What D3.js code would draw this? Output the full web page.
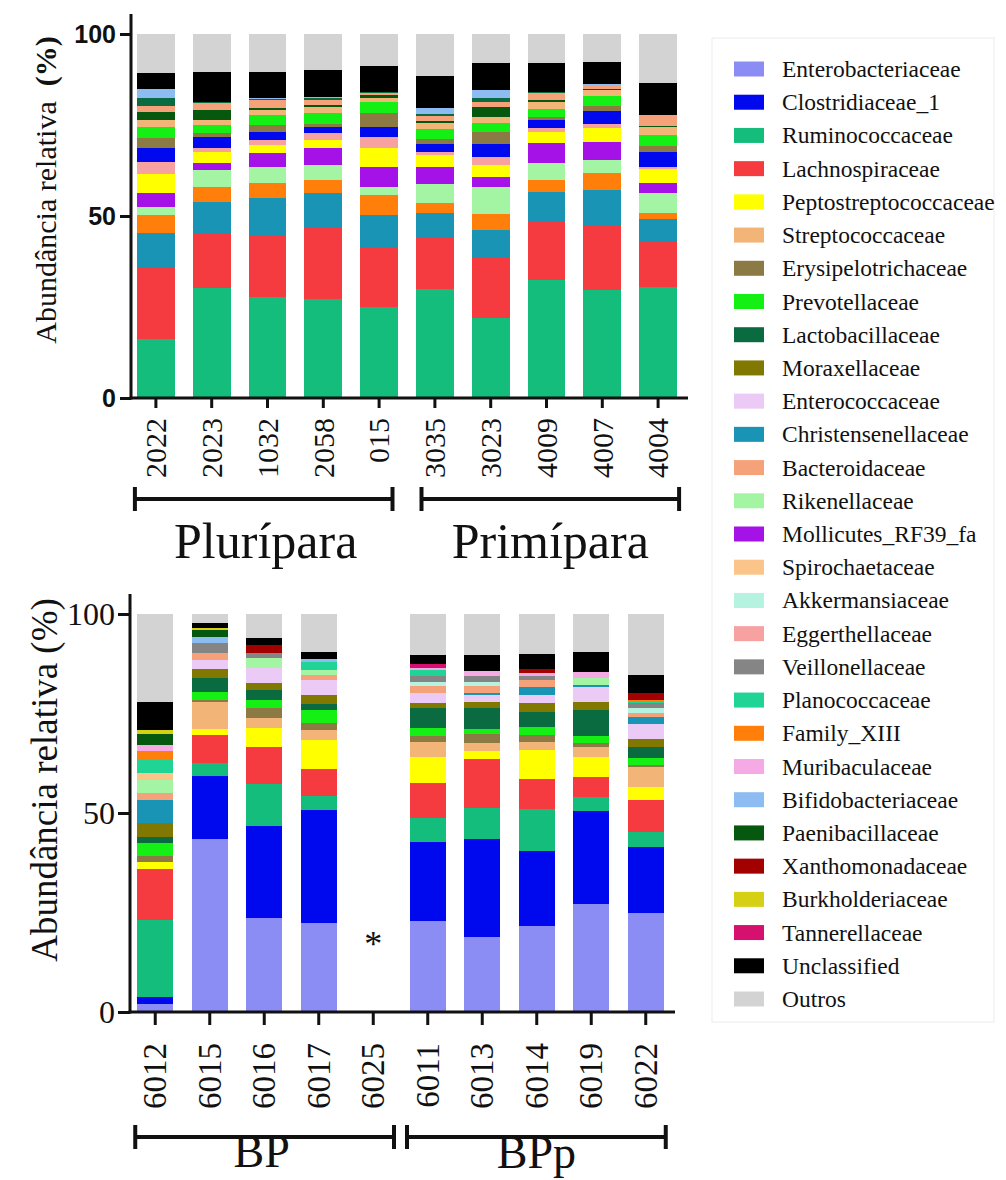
<!DOCTYPE html>
<html>
<head>
<meta charset="utf-8">
<script src="https://cdn.jsdelivr.net/npm/d3@7"></script>
<style>
  body { margin: 0; background: #fff; }
  svg { display: block; }
  text { fill: #111; }
</style>
</head>
<body>
<svg id="chart" width="1006" height="1180"></svg>
<script>
// legend order (also the stacking order of the lower panel)
var families = ['Enterobacteriaceae', 'Clostridiaceae_1', 'Ruminococcaceae', 'Lachnospiraceae',
  'Peptostreptococcaceae', 'Streptococcaceae', 'Erysipelotrichaceae', 'Prevotellaceae',
  'Lactobacillaceae', 'Moraxellaceae', 'Enterococcaceae', 'Christensenellaceae', 'Bacteroidaceae',
  'Rikenellaceae', 'Mollicutes_RF39_fa', 'Spirochaetaceae', 'Akkermansiaceae', 'Eggerthellaceae',
  'Veillonellaceae', 'Planococcaceae', 'Family_XIII', 'Muribaculaceae', 'Bifidobacteriaceae',
  'Paenibacillaceae', 'Xanthomonadaceae', 'Burkholderiaceae', 'Tannerellaceae', 'Unclassified', 'Outros']
var familyColors = ['#8c8cf5', '#0008ee', '#15bd7c', '#f53b3f',
  '#ffff00', '#f2b477', '#8c7a45', '#14f014',
  '#0a6b40', '#807800', '#ebcbf5', '#1a94b5', '#f5a27a',
  '#a3f5a3', '#a512e8', '#fbc58a', '#b5f2e0', '#f7a1a1',
  '#858585', '#1fd494', '#ff7f0a', '#f5aae6', '#8cbcf2',
  '#07580f', '#a30000', '#d6d014', '#d6106e', '#000000', '#d3d3d3']

// upper panel
var topSamples = ['2022', '2023', '1032', '2058', '015', '3035', '3023', '4009', '4007', '4004']
var topGroups = ['Plurípara', 'Primípara']
var topGroupSizes = [5, 5]
var topOrder = ['Ruminococcaceae', 'Lachnospiraceae', 'Christensenellaceae', 'Family_XIII',
  'Rikenellaceae', 'Mollicutes_RF39_fa', 'Peptostreptococcaceae', 'Eggerthellaceae',
  'Clostridiaceae_1', 'Erysipelotrichaceae', 'Prevotellaceae', 'Streptococcaceae',
  'Paenibacillaceae', 'Bacteroidaceae', 'Lactobacillaceae', 'Bifidobacteriaceae',
  'Unclassified', 'Outros']
var topValues = [
  [16.1, 19.5, 9.6, 5.1, 2.3, 3.8, 5.1, 3.4, 3.7, 2.7, 3.1, 2.0, 2.3, 1.5, 2.1, 2.5, 4.4, 10.8],
  [30.1, 15.1, 8.7, 4.2, 4.5, 1.9, 3.2, 0.9, 3.2, 0.9, 2.3, 1.4, 2.7, 1.9, 0.2, 0.2, 8.2, 10.4],
  [27.8, 17.0, 10.1, 4.1, 4.5, 3.7, 2.3, 1.4, 2.3, 1.8, 2.7, 1.4, 0.6, 2.2, 0.2, 0.2, 7.3, 10.4],
  [27.1, 19.5, 9.6, 3.7, 4.1, 4.6, 2.3, 1.8, 1.8, 0.9, 3.0, 1.5, 0.5, 1.5, 0.4, 0.5, 7.3, 9.9],
  [24.9, 16.7, 8.7, 5.5, 2.3, 5.4, 5.1, 3.2, 2.7, 3.7, 3.2, 0.9, 0.9, 0.7, 0.3, 0.0, 7.0, 8.8],
  [29.9, 14.4, 6.4, 2.9, 5.3, 4.5, 3.4, 0.9, 2.1, 1.3, 2.7, 1.8, 0.6, 1.4, 0.5, 1.5, 8.9, 11.5],
  [21.9, 16.5, 7.8, 4.3, 7.6, 2.7, 3.2, 2.3, 3.5, 3.4, 2.3, 1.8, 2.6, 1.5, 0.9, 2.3, 7.3, 8.1],
  [32.4, 16.0, 8.3, 3.2, 4.6, 5.6, 3.1, 0.9, 2.3, 0.9, 2.0, 2.1, 0.5, 1.8, 0.5, 0.0, 7.9, 7.9],
  [29.7, 17.6, 9.8, 4.6, 3.7, 5.0, 3.7, 1.3, 3.5, 1.3, 2.8, 1.5, 0.5, 1.0, 0.0, 0.3, 6.1, 7.6],
  [30.6, 12.3, 6.2, 1.8, 5.3, 3.0, 3.6, 0.7, 4.2, 1.5, 3.1, 2.1, 0.4, 2.9, 0.0, 0.0, 8.9, 13.4]
]

// lower panel, columns follow `families`
var bottomSamples = ['6012', '6015', '6016', '6017', '6025', '6011', '6013', '6014', '6019', '6022']
var bottomGroups = ['BP', 'BPp']
var bottomGroupSizes = [5, 5]
var missingSamples = ['6025']
var bottomValues = [
  [2.0, 1.8, 19.3, 12.8, 1.9, 0, 1.4, 3.2, 1.5, 3.7, 0, 5.7, 1.6, 3.4, 0, 1.8, 0, 0, 0, 3.2, 2.4, 1.4, 0, 2.7, 0, 1.1, 0, 7.1, 22.0],
  [43.4, 15.9, 3.3, 7.0, 1.4, 7.0, 0.4, 2.1, 3.3, 2.3, 2.3, 0, 1.9, 0, 0, 0, 0, 0, 2.5, 0, 0, 0, 1.5, 1.7, 0, 0.4, 0, 1.4, 2.2],
  [23.7, 23.1, 10.5, 9.4, 4.6, 2.5, 2.5, 2.1, 2.5, 1.8, 3.7, 0, 0, 2.5, 0, 0, 0, 0, 1.4, 0, 0, 0, 0, 0, 1.9, 0, 0, 1.7, 6.1],
  [22.3, 28.5, 3.5, 6.7, 7.3, 2.6, 1.8, 3.2, 1.5, 2.2, 3.8, 0, 1.3, 1.2, 0, 0, 0, 0, 0, 2.1, 0, 0, 0.6, 0, 0, 0, 0, 1.9, 9.5],
  [0, 0, 0, 0, 0, 0, 0, 0, 0, 0, 0, 0, 0, 0, 0, 0, 0, 0, 0, 0, 0, 0, 0, 0, 0, 0, 0, 0, 0],
  [22.9, 19.9, 5.9, 8.8, 6.5, 3.8, 1.5, 2.0, 5.2, 1.1, 2.5, 0, 1.8, 0, 0, 0, 1.1, 0, 1.4, 1.5, 0, 0.5, 0, 0, 0, 0, 1.1, 2.3, 10.2],
  [18.8, 24.6, 7.9, 12.2, 2.2, 1.8, 2.3, 1.3, 5.2, 1.7, 1.6, 0.6, 1.7, 0, 0, 0, 1.1, 0, 1.4, 0, 0, 1.4, 0, 0, 0, 0, 0, 3.9, 10.3],
  [21.7, 18.8, 10.4, 7.6, 7.3, 2.0, 1.8, 2.1, 3.8, 2.2, 1.9, 2.0, 1.8, 0, 0, 0, 0, 0, 0.9, 0, 0, 0.9, 0, 0, 1.1, 0, 0, 3.6, 10.1],
  [27.1, 23.4, 3.6, 4.9, 5.0, 2.7, 1.0, 1.6, 6.6, 2.1, 3.6, 0.6, 0, 1.6, 0, 0, 0, 0, 0, 0, 0, 1.7, 0, 0, 0, 0, 0, 5.0, 9.5],
  [25.0, 16.5, 3.8, 8.0, 3.3, 4.9, 0.6, 1.8, 2.8, 1.8, 3.9, 1.6, 1.2, 0, 0, 0, 1.1, 0, 1.3, 0.4, 0.4, 0, 0, 0, 1.7, 0, 0, 4.6, 15.3]
]

var yTicks = [0, 50, 100]
var yTitle = 'Abundância relativa'

var serif = '"Liberation Serif", "Times New Roman", serif'
var sans = '"Liberation Sans", Arial, sans-serif'

var svg = d3.select('#chart')
var color = d3.scaleOrdinal().domain(families).range(familyColors)

function makeRows (samples, order, values) {
  return samples.map(function (s, i) {
    var row = { sample: s }
    order.forEach(function (f, j) { row[f] = values[i][j] })
    return row
  })
}

function drawPanel (p) {
  var g = svg.append('g')
  var x = d3.scaleBand().domain(p.samples).range(p.xRange)
    .paddingInner(p.pad).paddingOuter(p.pad / 2)
  var y = d3.scaleLinear().domain([0, 100]).range([p.y0, p.y100])
  var series = d3.stack().keys(p.order)(makeRows(p.samples, p.order, p.values))
  var center = function (s) { return x(s) + x.bandwidth() / 2 }

  // stacked bars
  g.append('g').selectAll('g').data(series).enter().append('g')
    .attr('fill', function (d) { return color(d.key) })
    .selectAll('rect').data(function (d) { return d }).enter().append('rect')
    .attr('x', function (d) { return x(d.data.sample) })
    .attr('y', function (d) { return y(d[1]) })
    .attr('width', x.bandwidth())
    .attr('height', function (d) { return Math.max(0, y(d[0]) - y(d[1])) })
    .attr('shape-rendering', 'crispEdges')

  // y axis
  var yAxis = g.append('g')
    .attr('transform', 'translate(' + p.axisX + ',0)')
    .call(d3.axisLeft(y).tickValues(yTicks).tickSize(p.yTickLen).tickPadding(p.yTickPad))
  yAxis.select('.domain').remove()
  yAxis.selectAll('.tick line').attr('stroke', '#111').attr('stroke-width', 3)
  yAxis.selectAll('.tick text')
    .style('font-family', p.yTickFont).style('font-size', p.yTickSize + 'px')
    .style('font-weight', p.yTickWeight).attr('fill', '#111')
  g.append('line')
    .attr('x1', p.axisX).attr('x2', p.axisX)
    .attr('y1', p.axisTop).attr('y2', p.y0 + 1.5)
    .attr('stroke', '#111').attr('stroke-width', 3)

  // x axis
  var xAxis = g.append('g')
    .attr('transform', 'translate(0,' + p.y0 + ')')
    .call(d3.axisBottom(x).tickSize(p.xTickLen).tickFormat(''))
  xAxis.select('.domain').remove()
  xAxis.selectAll('.tick line').attr('stroke', '#111').attr('stroke-width', 3)
  g.append('line')
    .attr('x1', p.axisX - 1.5).attr('x2', p.xEnd)
    .attr('y1', p.y0).attr('y2', p.y0)
    .attr('stroke', '#111').attr('stroke-width', 3)

  g.append('g').selectAll('text').data(p.samples).enter().append('text')
    .attr('transform', function (d) {
      return 'translate(' + center(d) + ',' + p.labelY + ') rotate(-90)'
    })
    .attr('text-anchor', 'end')
    .attr('dy', '0.34em')
    .style('font-family', serif).style('font-size', p.xTickSize + 'px')
    .text(function (d) { return d })

  // y title
  var title = g.append('text')
    .attr('transform', 'translate(' + p.titleX + ',' + p.titleY + ') rotate(-90)')
    .attr('text-anchor', 'middle')
    .style('font-family', serif).style('font-size', p.titleSize + 'px')
  title.append('tspan').text(yTitle + p.titleGap)
  title.append('tspan').style('font-weight', p.percentWeight).text('(%)')

  // group brackets
  var start = 0
  p.groups.forEach(function (name, k) {
    var a = start, b = start + p.groupSizes[k] - 1
    var left = k === 0 ? center(p.samples[a]) - p.bracketOuter
      : (center(p.samples[a - 1]) + center(p.samples[a])) / 2 + p.bracketGap
    var right = k === p.groups.length - 1 ? center(p.samples[b]) + p.bracketOuter
      : (center(p.samples[b]) + center(p.samples[b + 1])) / 2 - p.bracketGap
    var br = g.append('g').attr('stroke', '#111').attr('stroke-width', 4)
    br.append('line').attr('x1', left).attr('x2', right).attr('y1', p.bracketY).attr('y2', p.bracketY)
    br.append('line').attr('x1', left).attr('x2', left).attr('y1', p.bracketY - 12).attr('y2', p.bracketY + 12)
    br.append('line').attr('x1', right).attr('x2', right).attr('y1', p.bracketY - 12).attr('y2', p.bracketY + 12)
    g.append('text')
      .attr('x', (left + right) / 2 + p.groupDx[k])
      .attr('y', p.groupY[k])
      .attr('text-anchor', 'middle')
      .style('font-family', serif).style('font-size', p.groupSize + 'px')
      .text(name)
    start = b + 1
  })

  // no data marker
  g.append('g').selectAll('text').data(p.missing).enter().append('text')
    .attr('x', function (d) { return center(d) })
    .attr('y', y(14))
    .attr('text-anchor', 'middle')
    .style('font-family', serif).style('font-size', '36px')
    .text('*')
}

drawPanel({
  samples: topSamples, order: topOrder, values: topValues,
  groups: topGroups, groupSizes: topGroupSizes, missing: [],
  xRange: [128, 686], pad: 0.32, y0: 398, y100: 34,
  axisX: 131, axisTop: 14, xEnd: 688,
  yTickLen: 11, yTickPad: 4, yTickFont: sans, yTickSize: 25, yTickWeight: 'bold',
  xTickLen: 10, xTickSize: 30, labelY: 418,
  titleX: 56, titleY: 190, titleSize: 30, titleGap: '\u00a0\u00a0', percentWeight: 'bold',
  bracketY: 499, bracketOuter: 21, bracketGap: 14.5,
  groupY: [558, 558], groupDx: [2, 0], groupSize: 50
})

drawPanel({
  samples: bottomSamples, order: families, values: bottomValues,
  groups: bottomGroups, groupSizes: bottomGroupSizes, missing: missingSamples,
  xRange: [128, 673], pad: 0.34, y0: 1012, y100: 614,
  axisX: 130, axisTop: 594, xEnd: 675,
  yTickLen: 12, yTickPad: 3, yTickFont: serif, yTickSize: 32, yTickWeight: 'normal',
  xTickLen: 13, xTickSize: 33, labelY: 1043,
  titleX: 57, titleY: 780, titleSize: 37, titleGap: ' ', percentWeight: 'normal',
  bracketY: 1137, bracketOuter: 20, bracketGap: 6.5,
  groupY: [1167, 1168], groupDx: [-3, 0], groupSize: 46
})

// legend
var legend = svg.append('g')
legend.append('rect')
  .attr('x', 712).attr('y', 38).attr('width', 282).attr('height', 984)
  .attr('fill', 'none').attr('stroke', '#ececec')
var ly = d3.scalePoint().domain(families).range([69, 999])
var item = legend.selectAll('g.item').data(families).enter().append('g')
  .attr('transform', function (d) { return 'translate(0,' + ly(d) + ')' })
item.append('rect')
  .attr('x', 734).attr('y', -7.5).attr('width', 30).attr('height', 15)
  .attr('fill', function (d) { return color(d) })
item.append('text')
  .attr('x', 782).attr('dy', '0.34em')
  .style('font-family', serif).style('font-size', '23.5px')
  .text(function (d) { return d })
</script>
</body>
</html>
